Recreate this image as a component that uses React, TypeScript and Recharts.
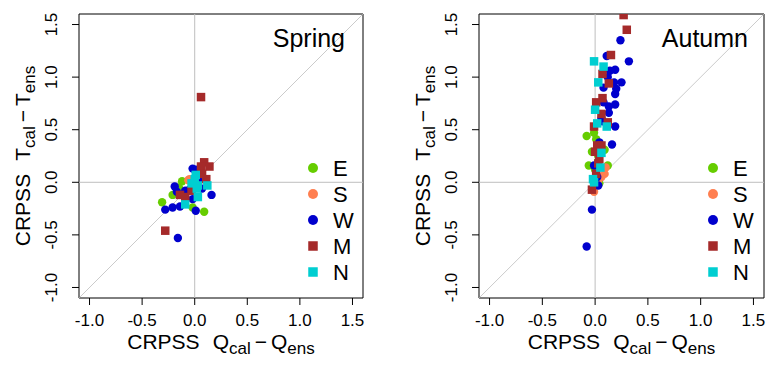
import React from "react";
import {
  ScatterChart,
  Scatter,
  XAxis,
  YAxis,
  ReferenceLine,
  ReferenceArea,
  Legend,
} from "recharts";

// axis ticks shared by both panels
const ticks = [-1.0, -0.5, 0.0, 0.5, 1.0, 1.5];
const lo = -1.1;
const hi = 1.6;

const groups = ["E", "S", "W", "M", "N"];
const colors: Record<string, string> = {
  E: "#66CD00",
  S: "#FF7F50",
  W: "#0000CD",
  M: "#A52A2A",
  N: "#00CED1",
};
const squares = ["M", "N"];

// Spring: [CRPSS Q_cal - Q_ens, CRPSS T_cal - T_ens]
const springE = [[-0.12, 0.01], [-0.31, -0.19], [-0.21, -0.12], [-0.02, -0.24], [0.09, -0.28], [-0.15, -0.05]];
const springS = [[-0.06, 0.02], [-0.05, 0.03], [0.0, -0.05]];
const springW = [
  [-0.02, 0.13], [0.01, 0.12], [-0.19, -0.04], [0.16, -0.12], [-0.28, -0.26], [-0.21, -0.24],
  [-0.14, -0.23], [-0.02, -0.16], [0.01, -0.27], [-0.05, -0.07], [-0.16, -0.53], [0.04, 0.02],
  [-0.09, -0.08], [0.07, -0.06], [-0.17, -0.09],
];
const springM = [
  [0.09, 0.19], [0.14, 0.15], [0.06, 0.15], [0.11, 0.03], [0.07, 0.08], [-0.14, -0.12],
  [-0.09, -0.14], [-0.03, -0.08], [-0.28, -0.46], [0.06, 0.81], [0.0, -0.02],
];
const springN = [[0.01, 0.07], [-0.03, -0.01], [0.03, -0.03], [0.12, -0.03], [0.03, -0.14], [-0.09, -0.21], [0.0, 0.03], [0.02, -0.06]];

// Autumn
const autumnE = [[-0.08, 0.44], [-0.01, 0.47], [0.01, 0.41], [0.09, 0.31], [-0.03, 0.29], [-0.06, 0.16], [0.12, 0.16], [0.04, -0.01], [0.03, 0.25], [0.0, 0.12]];
const autumnS = [[0.09, 0.08], [0.06, 0.05], [-0.01, -0.09], [0.1, 0.14], [0.03, 0.02]];
const autumnW = [
  [0.24, 1.35], [0.11, 1.2], [0.32, 1.15], [0.19, 1.07], [0.14, 1.06], [0.25, 0.95], [0.18, 0.95],
  [0.08, 0.9], [0.2, 0.89], [0.19, 0.84], [0.08, 0.76], [0.19, 0.74], [0.13, 0.72], [0.13, 0.66],
  [0.06, 0.61], [0.19, 0.53], [0.04, 0.38], [0.16, 0.36], [-0.01, 0.16], [0.03, -0.03], [-0.03, -0.26],
  [-0.08, -0.61], [0.07, 0.58], [0.12, 1.0], [0.02, 0.05],
];
const autumnM = [
  [0.27, 1.59], [0.3, 1.45], [0.15, 1.21], [0.07, 1.03], [0.13, 0.94], [0.07, 0.8], [0.01, 0.76],
  [0.06, 0.65], [0.12, 0.57], [-0.01, 0.53], [0.02, 0.35], [0.06, 0.35], [0.0, 0.29], [0.04, 0.22],
  [0.03, 0.18], [0.01, 0.08], [-0.03, -0.07], [0.05, 0.3],
];
const autumnN = [[-0.01, 1.15], [0.08, 1.1], [0.03, 0.95], [0.0, 0.69], [0.02, 0.56], [0.11, 0.53], [0.06, 0.28], [0.05, 0.14], [-0.02, 0.03], [-0.01, 0.0]];

const FONT = "'Liberation Sans', Arial, sans-serif";

const toPts = (arr: number[][]) => arr.map(([x, y]) => ({ x, y }));

const Marker = (props: any, g: string, big = false) => {
  const { cx, cy } = props;
  if (cx == null || cy == null) return <g />;
  if (squares.includes(g)) {
    const s = big ? 9.5 : 8.5;
    return <rect x={cx - s / 2} y={cy - s / 2} width={s} height={s} fill={colors[g]} />;
  }
  return <circle cx={cx} cy={cy} r={big ? 5 : 4.2} fill={colors[g]} />;
};

const YTick = (props: any) => {
  const { x, y, payload } = props;
  return (
    <text x={x} y={y} transform={`rotate(-90, ${x}, ${y})`} textAnchor="middle" fontSize={17} fontFamily={FONT} fill="#000">
      {Number(payload.value).toFixed(1)}
    </text>
  );
};

// "CRPSS  V_cal − V_ens" with subscripts
const titleSpans = (v: string) => [
  <tspan key="a">CRPSS</tspan>,
  <tspan key="b" dx={13}>{v}</tspan>,
  <tspan key="c" fontSize={17} dy={5}>cal</tspan>,
  <tspan key="d" dy={-5} dx={4}>−</tspan>,
  <tspan key="e" dx={4}>{v}</tspan>,
  <tspan key="f" fontSize={17} dy={5}>ens</tspan>,
];

const XTitle = (props: any) => {
  const vb = props.viewBox;
  const cx = vb.x + vb.width / 2;
  return (
    <text x={cx} y={vb.y + 51} textAnchor="middle" fontSize={21} fontFamily={FONT} fill="#000">
      {titleSpans("Q")}
    </text>
  );
};

const YTitle = (props: any) => {
  const vb = props.viewBox;
  const x = vb.x + vb.width - 49;
  const y = vb.y + vb.height / 2;
  return (
    <text x={x} y={y} transform={`rotate(-90, ${x}, ${y})`} textAnchor="middle" fontSize={21} fontFamily={FONT} fill="#000">
      {titleSpans("T")}
    </text>
  );
};

const LegendBox = () => (
  <svg width={60} height={135} style={{ display: "block" }}>
    {groups.map((g, i) => (
      <g key={g}>
        {Marker({ cx: 10, cy: 13 + 26 * i }, g, true)}
        <text x={30} y={13 + 26 * i + 8} fontSize={22} fontFamily={FONT} fill="#000">
          {g}
        </text>
      </g>
    ))}
  </svg>
);

type PanelProps = {
  title: string;
  width: number;
  yAxisWidth: number;
  rightMargin: number;
  legendX: number;
  titleX: number;
  series: number[][][];
};

const Panel = ({ title, width, yAxisWidth, rightMargin, legendX, titleX, series }: PanelProps) => (
  <div style={{ position: "relative", width, height: 366 }}>
    <ScatterChart width={width} height={366} margin={{ top: 14, right: rightMargin, bottom: 0, left: 0 }}>
      <XAxis
        type="number"
        dataKey="x"
        domain={[lo, hi]}
        ticks={ticks}
        allowDataOverflow
        axisLine={false}
        tickLine={{ stroke: "#000" }}
        tickSize={7}
        tickMargin={9}
        height={68}
        tick={{ fontSize: 17, fill: "#000", fontFamily: FONT }}
        tickFormatter={(v: number) => v.toFixed(1)}
        label={{ content: XTitle }}
      />
      <YAxis
        type="number"
        dataKey="y"
        domain={[lo, hi]}
        ticks={ticks}
        allowDataOverflow
        axisLine={false}
        tickLine={{ stroke: "#000" }}
        tickSize={7}
        tickMargin={15}
        width={yAxisWidth}
        tick={YTick}
        label={{ content: YTitle }}
      />
      <ReferenceLine x={0} stroke="#bebebe" strokeWidth={1} />
      <ReferenceLine y={0} stroke="#bebebe" strokeWidth={1} />
      <ReferenceLine
        segment={[
          { x: lo, y: lo },
          { x: hi, y: hi },
        ]}
        stroke="#bebebe"
        strokeWidth={0.8}
      />
      {groups.map((g, i) => (
        <Scatter
          key={g}
          name={g}
          data={toPts(series[i])}
          fill={colors[g]}
          isAnimationActive={false}
          shape={(p: any) => Marker(p, g)}
        />
      ))}
      <ReferenceArea x1={lo} x2={hi} y1={lo} y2={hi} fill="none" stroke="#000" strokeWidth={1} fillOpacity={0} />
      <Legend
        layout="vertical"
        align="center"
        verticalAlign="middle"
        content={LegendBox}
        wrapperStyle={{ left: legendX - 10, top: 155, width: 60, height: 135 }}
      />
    </ScatterChart>
    <svg width={width} height={366} style={{ position: "absolute", left: 0, top: 0, pointerEvents: "none" }}>
      <text x={titleX} y={47} textAnchor="end" fontSize={25} fontFamily={FONT} fill="#000">
        {title}
      </text>
    </svg>
  </div>
);

export default function App() {
  return (
    <div style={{ position: "absolute", left: 0, top: 0, width: 777, height: 366, display: "flex", background: "#fff" }}>
      <Panel
        title="Spring"
        width={388}
        yAxisWidth={79}
        rightMargin={25}
        legendX={313}
        titleX={345}
        series={[springE, springS, springW, springM, springN]}
      />
      <Panel
        title="Autumn"
        width={389}
        yAxisWidth={91}
        rightMargin={13}
        legendX={325}
        titleX={360}
        series={[autumnE, autumnS, autumnW, autumnM, autumnN]}
      />
    </div>
  );
}
